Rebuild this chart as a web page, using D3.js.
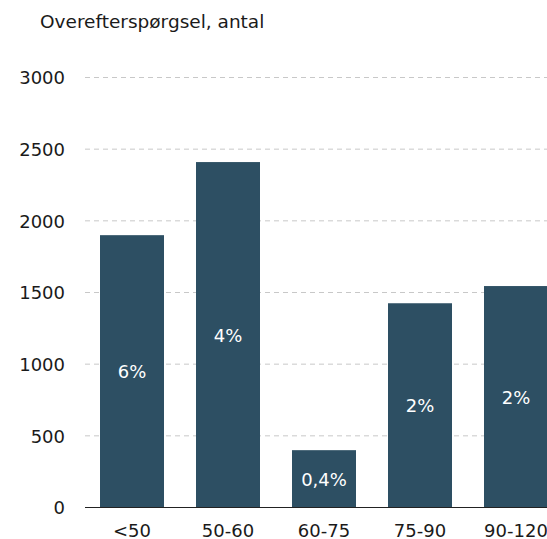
<!DOCTYPE html>
<html>
<head>
<meta charset="utf-8">
<script src="https://cdn.jsdelivr.net/npm/d3@7"></script>
<style>
    body { margin: 0; background: #ffffff; }
    svg { display: block; font-family: "DejaVu Sans", Verdana, sans-serif; }
    .grid line { stroke: #c8c8c8; stroke-dasharray: 5,4; }
    .tickLabel { fill: #1a1a1a; font-size: 18px; }
    .catLabel { fill: #1a1a1a; font-size: 18px; }
    .barLabel { fill: #ffffff; font-size: 18px; }
    .unitNote { fill: #1a1a1a; font-size: 18.5px; }
</style>
</head>
<body>
<div id="chart"></div>
<script>

// size bands (m2) and the excess demand
var categories = ["<50", "50-60", "60-75", "75-90", "90-120"];
var values = [1900, 2410, 400, 1425, 1545];
var shareLabels = ["6%", "4%", "0,4%", "2%", "2%"];
var yTicks = [0, 500, 1000, 1500, 2000, 2500, 3000];
var unitText = "Overefterspørgsel, antal";

/**
 * Constructor for the bar chart
 */
function DemandChart(){
    var self = this;
    self.init();
};

/**
 * Sets up the svg and scales
 */
DemandChart.prototype.init = function(){
    var self = this;
    self.svgWidth = 547;
    self.svgHeight = 539;
    self.margin = {top: 77.5, left: 85, bottom: 31.5};

    self.svg = d3.select("#chart").append("svg")
        .attr("width", self.svgWidth)
        .attr("height", self.svgHeight);

    // the plot runs past the right edge, like in the cropped original
    self.xScale = d3.scaleBand()
        .domain(categories)
        .range([self.margin.left, self.margin.left + 478])
        .paddingInner(1/3)
        .paddingOuter(0.15625);

    self.yScale = d3.scaleLinear()
        .domain([0, 3000])
        .range([self.svgHeight - self.margin.bottom, self.margin.top]);
};

/**
 * Draws grid, bars and all the texts
 */
DemandChart.prototype.update = function(){
    var self = this;
    var x = self.xScale;
    var y = self.yScale;
    var xEnd = self.margin.left + 478;

    //dashed gridlines
    self.svg.append("g")
        .attr("class", "grid")
        .selectAll("line")
        .data(yTicks.filter(function(d){ return d > 0; }))
        .enter()
        .append("line")
        .attr("x1", self.margin.left)
        .attr("x2", xEnd)
        .attr("y1", function(d){ return y(d); })
        .attr("y2", function(d){ return y(d); });

    //y tick labels
    self.svg.selectAll(".tickLabel")
        .data(yTicks)
        .enter()
        .append("text")
        .attr("class", "tickLabel")
        .attr("x", 65)
        .attr("y", function(d){ return y(d); })
        .attr("dy", "0.38em")
        .attr("text-anchor", "end")
        .text(function(d){ return d; });

    //bars
    self.svg.selectAll("rect")
        .data(values)
        .enter()
        .append("rect")
        .attr("x", function(d, i){ return x(categories[i]); })
        .attr("y", function(d){ return y(d); })
        .attr("width", x.bandwidth())
        .attr("height", function(d){ return y(0) - y(d); })
        .attr("fill", "#2d4f63");

    //share labels in the middle of each bar
    self.svg.selectAll(".barLabel")
        .data(values)
        .enter()
        .append("text")
        .attr("class", "barLabel")
        .attr("x", function(d, i){ return x(categories[i]) + x.bandwidth() / 2; })
        .attr("y", function(d){ return (y(d) + y(0)) / 2; })
        .attr("dy", "0.38em")
        .attr("text-anchor", "middle")
        .text(function(d, i){ return shareLabels[i]; });

    //baseline
    self.svg.append("line")
        .attr("x1", self.margin.left)
        .attr("x2", xEnd)
        .attr("y1", y(0))
        .attr("y2", y(0))
        .attr("stroke", "#222222");

    //category labels
    self.svg.selectAll(".catLabel")
        .data(categories)
        .enter()
        .append("text")
        .attr("class", "catLabel")
        .attr("x", function(d){ return x(d) + x.bandwidth() / 2; })
        .attr("y", 537)
        .attr("text-anchor", "middle")
        .text(function(d){ return d; });

    //unit text above the axis
    self.svg.append("text")
        .attr("class", "unitNote")
        .attr("x", 40)
        .attr("y", 28)
        .text(unitText);
};

var chart = new DemandChart();
chart.update();

</script>
</body>
</html>
